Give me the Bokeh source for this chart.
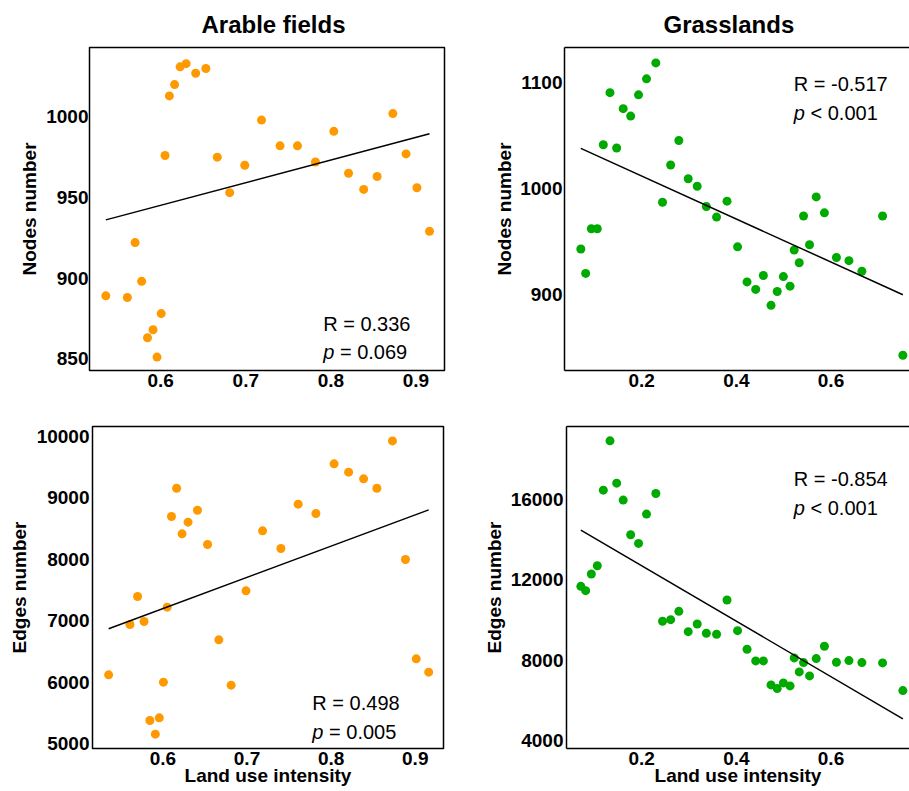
from bokeh.plotting import figure
from bokeh.layouts import column, row
from bokeh.models import FixedTicker, Label, LinearAxis, Range1d
from bokeh.embed import file_html
from bokeh.resources import INLINE

# ---------------- data ----------------
arable_x = [0.5355, 0.5608, 0.5699, 0.5776, 0.5845, 0.5910, 0.5957, 0.6006, 0.6051, 0.6102,
            0.6163, 0.6228, 0.6299, 0.6411, 0.6531, 0.6665, 0.6811, 0.6988, 0.7185, 0.7403,
            0.7608, 0.7819, 0.8035, 0.8208, 0.8386, 0.8544, 0.8729, 0.8884, 0.9012, 0.9160]
arable_nodes = [889, 888, 922, 898, 863, 868, 851, 878, 976, 1013,
                1020, 1031, 1033, 1027, 1030, 975, 953, 970, 998, 982,
                982, 972, 991, 965, 955, 963, 1002, 977, 956, 929]
arable_edges = [6122, 6941, 7397, 6990, 5379, 5157, 5422, 6003, 7223, 8698,
                9159, 8416, 8606, 8801, 8243, 6692, 5954, 7489, 8465, 8178,
                8899, 8747, 9555, 9420, 9311, 9159, 9929, 7999, 6382, 6166]

grass_x = [0.0714, 0.0816, 0.0936, 0.1062, 0.1189, 0.1330, 0.1471, 0.1609, 0.1767, 0.1933,
           0.2102, 0.2299, 0.2440, 0.2612, 0.2785, 0.2983, 0.3173, 0.3366, 0.3582, 0.3803,
           0.4026, 0.4226, 0.4409, 0.4571, 0.4733, 0.4864, 0.4994, 0.5135, 0.5223, 0.5329,
           0.5420, 0.5547, 0.5688, 0.5861, 0.6115, 0.6379, 0.6653, 0.7090, 0.7519]
grass_nodes = [943, 920, 962, 962, 1041, 1090, 1038, 1075, 1068, 1088,
               1103, 1118, 987, 1022, 1045, 1009, 1002, 983, 973, 988,
               945, 912, 905, 918, 890, 903, 917, 908, 942, 930,
               974, 947, 992, 977, 935, 932, 922, 974, 843]
grass_edges = [11669, 11453, 12282, 12696, 16455, 18907, 16803, 15959, 14236, 13805,
               15263, 16290, 9930, 10012, 10426, 9416, 9797, 9333, 9284, 10990,
               9466, 8538, 7959, 7959, 6766, 6584, 6865, 6716, 8108, 7412,
               7876, 7213, 8074, 8687, 7892, 7975, 7876, 7859, 6484]

# regression lines (end points)
fit_arable_x = [0.5355, 0.9160]
fit_arable_nodes = [936.1, 989.5]
fit_arable_edges = [6871, 8807]
fit_grass_x = [0.0714, 0.7519]
fit_grass_nodes = [1037.6, 900.0]
fit_grass_edges = [14470, 5078]

stats_r = ["R = 0.336", "R = -0.517", "R = 0.498", "R = -0.854"]
stats_p = ["= 0.069", "< 0.001", "= 0.005", "< 0.001"]

titles = ["Arable fields", "Grasslands"]
x_label = "Land use intensity"
y_labels = ["Nodes number", "Edges number"]

arable_xticks = [0.6, 0.7, 0.8, 0.9]
arable_xtick_labels = ["0.6", "0.7", "0.8", "0.9"]
grass_xticks = [0.2, 0.4, 0.6]
grass_xtick_labels = ["0.2", "0.4", "0.6"]
arable_nodes_ticks = [850, 900, 950, 1000]
grass_nodes_ticks = [900, 1000, 1100]
arable_edges_ticks = [5000, 6000, 7000, 8000, 9000, 10000]
grass_edges_ticks = [4000, 8000, 12000, 16000]

ORANGE = "#FF9900"
GREEN = "#00AA00"
FONT = "Liberation Sans"


def panel(x, y, color, fx, fy, xr, yr, xticks, xtl, yticks, ylabel,
          r_txt, p_txt, txt_pos, width, height, borders, ylab_standoff,
          ytick_standoff, title=None, title_offset=0, show_xlabel=False,
          open_right=False):
    bl, br, bt, bb = borders
    p = figure(width=width, height=height, x_range=Range1d(*xr), y_range=Range1d(*yr),
               output_backend="svg", toolbar_location=None, tools="",
               min_border_left=bl, min_border_right=br, min_border_top=bt,
               min_border_bottom=bb)
    p.background_fill_color = "white"
    p.border_fill_color = "white"
    p.grid.visible = False

    if title is not None:
        p.title.text = title
        p.title.align = "left"
        p.title.offset = title_offset
        p.title.vertical_align = "top"
        p.title.standoff = 16
        p.title.text_font = FONT
        p.title.text_font_size = "24px"
        p.title.text_font_style = "bold"
        p.title.text_color = "black"

    for ax in (p.xaxis[0], p.yaxis[0]):
        ax.major_tick_line_color = None
        ax.minor_tick_line_color = None
        ax.major_tick_out = 0
        ax.major_tick_in = 0
        ax.minor_tick_out = 0
        ax.minor_tick_in = 0
        ax.major_label_text_font = FONT
        ax.major_label_text_font_size = "19px"
        ax.major_label_text_font_style = "bold"
        ax.major_label_text_color = "black"
        ax.axis_label_text_font = FONT
        ax.axis_label_text_font_size = "19px"
        ax.axis_label_text_font_style = "bold"
        ax.axis_label_text_color = "black"

    p.xaxis.ticker = FixedTicker(ticks=xticks)
    p.xaxis.major_label_overrides = {t: l for t, l in zip(xticks, xtl)}
    p.xaxis.major_label_standoff = 3
    p.yaxis.ticker = FixedTicker(ticks=yticks)
    p.yaxis.major_label_overrides = {t: str(t) for t in yticks}
    p.yaxis.major_label_standoff = ytick_standoff
    p.yaxis.axis_label = ylabel
    p.yaxis.axis_label_standoff = ylab_standoff
    if show_xlabel:
        p.xaxis.axis_label = x_label
        p.xaxis.axis_label_standoff = -3

    if open_right:
        p.outline_line_color = None
        for ax in (p.xaxis[0], p.yaxis[0]):
            ax.axis_line_color = "black"
            ax.axis_line_width = 1.5
        top = LinearAxis(ticker=FixedTicker(ticks=[]), axis_line_width=1.5,
                         axis_line_color="black", major_tick_line_color=None,
                         minor_tick_line_color=None, major_tick_out=0, major_tick_in=0,
                         minor_tick_out=0, minor_tick_in=0,
                         major_label_text_font_size="0px")
        p.add_layout(top, "above")
    else:
        p.outline_line_color = "black"
        p.outline_line_width = 1.5
        p.outline_line_alpha = 1.0
        p.xaxis.axis_line_color = None
        p.yaxis.axis_line_color = None

    p.scatter(x, y, size=9, color=color, line_color=None)
    p.line(fx, fy, line_color="black", line_width=1.5)

    tx, ty_r, ty_p = txt_pos
    p.add_layout(Label(x=tx, y=ty_r, text=r_txt, text_font=FONT, text_font_size="20px",
                       text_baseline="alphabetic", text_color="black"))
    p.add_layout(Label(x=tx, y=ty_p, text="p", text_font=FONT, text_font_size="20px",
                       text_font_style="italic", text_baseline="alphabetic",
                       text_color="black"))
    p.add_layout(Label(x=tx, y=ty_p, x_offset=16.7, text=p_txt, text_font=FONT,
                       text_font_size="20px", text_baseline="alphabetic",
                       text_color="black"))
    return p


ar_xr = (0.5163, 0.9336)
gr_top_xr = (0.0369, 0.7659)
gr_bot_xr = (0.0411, 0.7659)

p1 = panel(arable_x, arable_nodes, ORANGE, fit_arable_x, fit_arable_nodes,
           ar_xr, (842.7, 1043.0), arable_xticks, arable_xtick_labels,
           arable_nodes_ticks, y_labels[0], stats_r[0], stats_p[0],
           (0.791, 871.5, 854.2), 455, 400, (89, 11, 47, 30), 3, 1,
           title=titles[0], title_offset=112)
p2 = panel(grass_x, grass_nodes, GREEN, fit_grass_x, fit_grass_nodes,
           gr_top_xr, (828.7, 1132.5), grass_xticks, grass_xtick_labels,
           grass_nodes_ticks, y_labels[0], stats_r[1], stats_p[1],
           (0.5214, 1098.5, 1071.3), 454, 400, (109, 0, 47, 30), 2, 2,
           title=titles[1], title_offset=99, open_right=True)
p3 = panel(arable_x, arable_edges, ORANGE, fit_arable_x, fit_arable_edges,
           ar_xr, (4923.5, 10163), arable_xticks, arable_xtick_labels,
           arable_edges_ticks, y_labels[1], stats_r[2], stats_p[2],
           (0.7777, 5661, 5189), 455, 391, (92, 12, 26, 43), 4, 3,
           show_xlabel=True)
p4 = panel(grass_x, grass_edges, GREEN, fit_grass_x, fit_grass_edges,
           gr_bot_xr, (3603, 19620), grass_xticks, grass_xtick_labels,
           grass_edges_ticks, y_labels[1], stats_r[3], stats_p[3],
           (0.5214, 17004, 15563), 454, 391, (111, 0, 26, 43), 3, 3,
           show_xlabel=True, open_right=True)

layout = column(row(p1, p2), row(p3, p4))
open("out.html", "w").write(file_html(layout, INLINE))
